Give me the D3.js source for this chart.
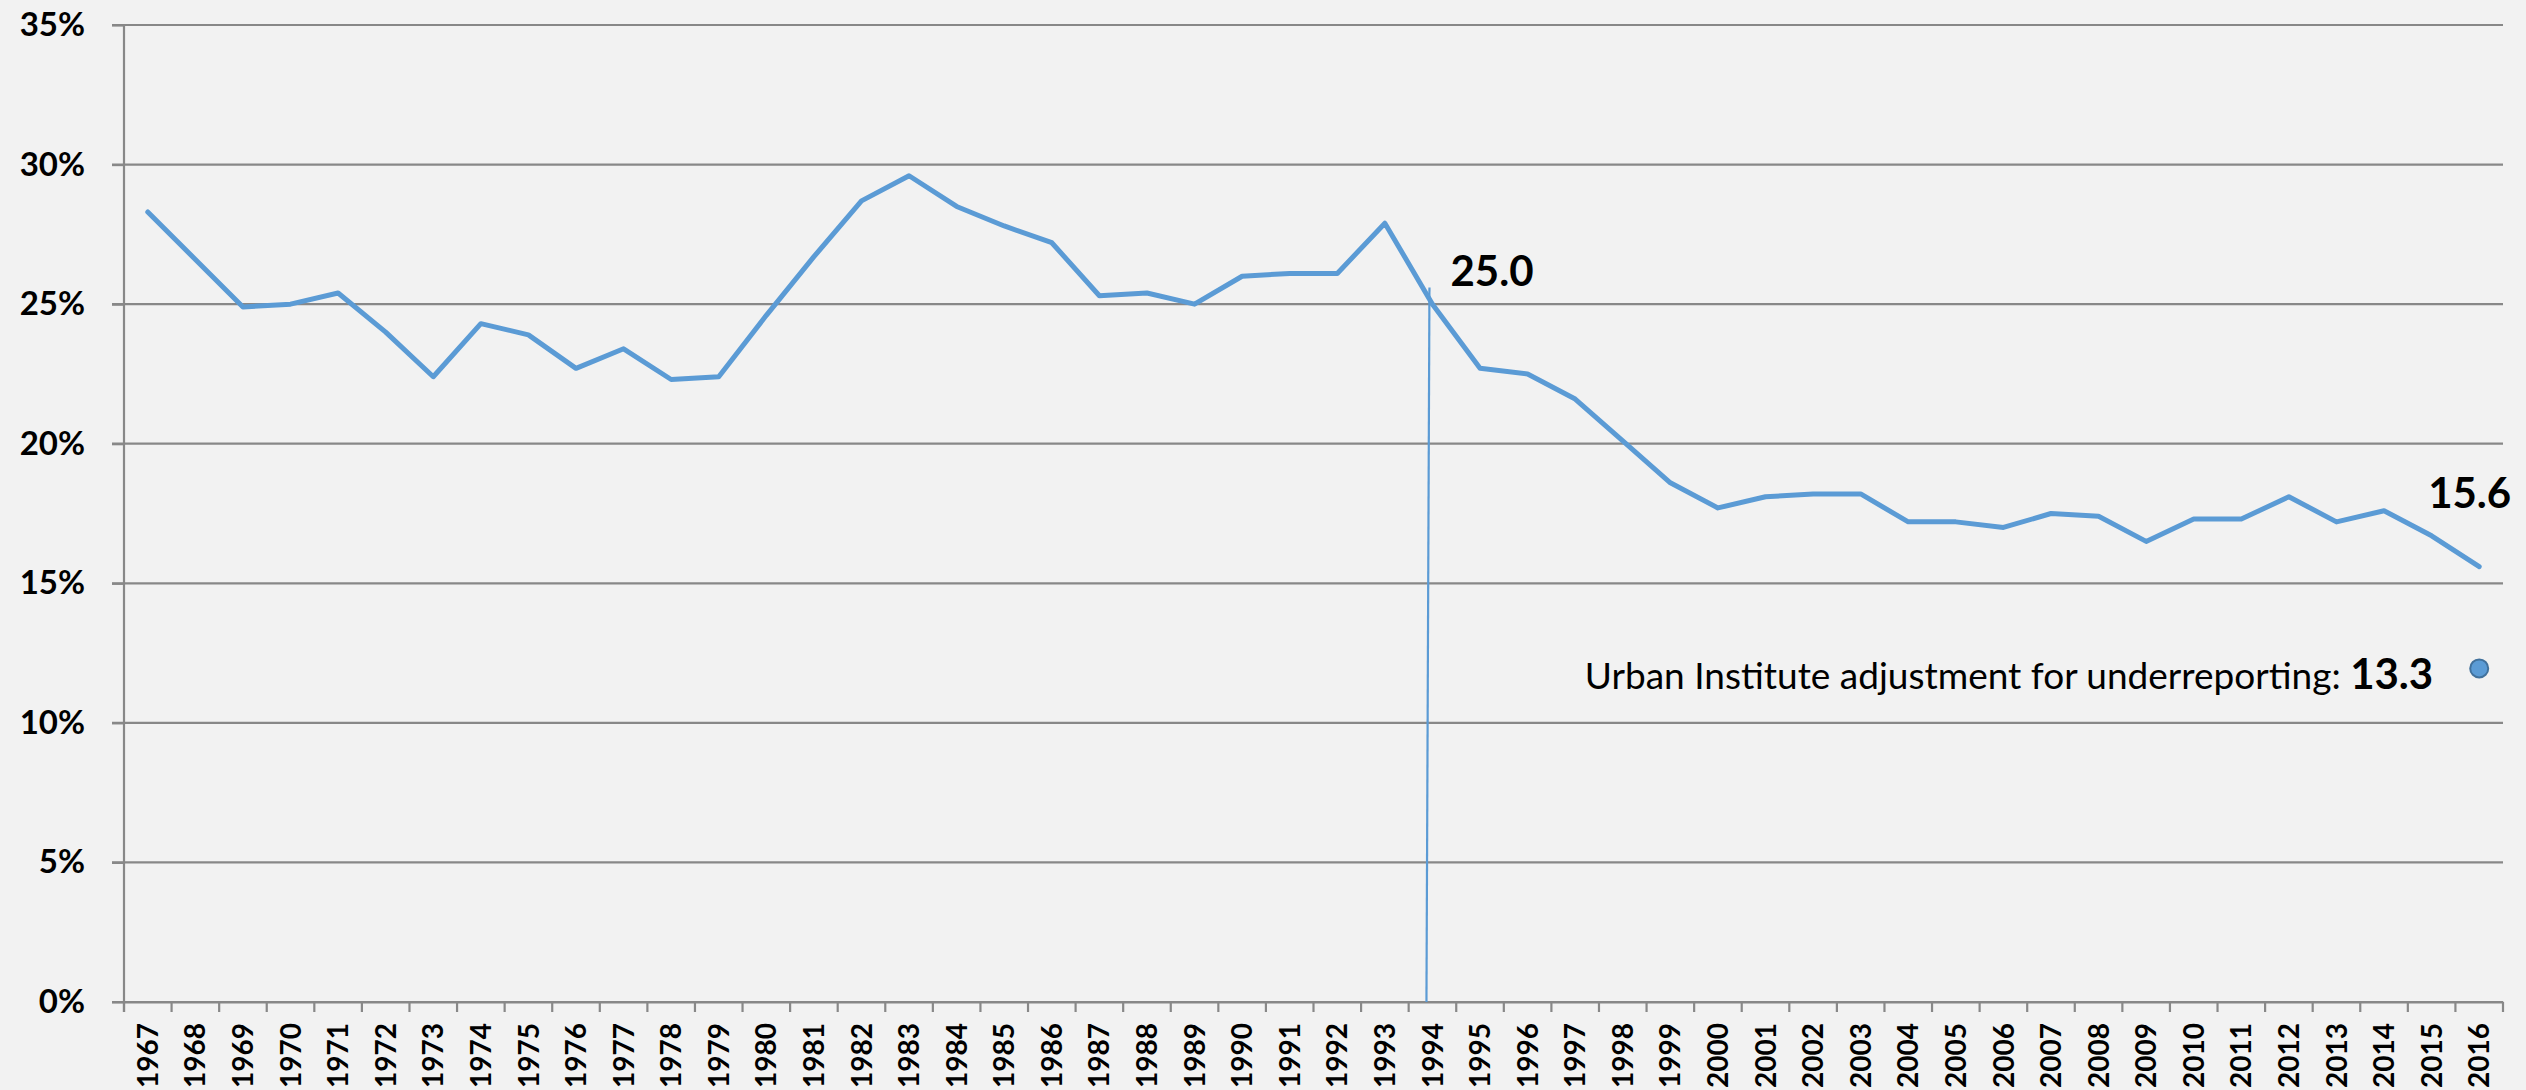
<!DOCTYPE html>
<html>
<head>
<meta charset="utf-8">
<script src="https://cdn.jsdelivr.net/npm/d3@7"></script>
<style>
  html, body { margin: 0; padding: 0; background: #f2f2f2; }
  svg { display: block; }
  .grid line { stroke: #888888; stroke-width: 2.2; }
  .axis path, .axis line { stroke: #888888; stroke-width: 2.2; }
  .ylab text { font-family: Lato, sans-serif; font-weight: bold; font-size: 33px; fill: #000; }
  .xlab text { font-family: Lato, sans-serif; font-weight: bold; font-size: 28px; fill: #000; }
  .big { font-family: Lato, sans-serif; font-weight: bold; font-size: 42px; fill: #000; }
  .note { font-family: Lato, sans-serif; font-size: 37px; fill: #000; }
</style>
</head>
<body>
<svg id="chart" width="2526" height="1090"></svg>
<script>
// years on the category axis
var years = d3.range(1967, 2017);

// rate, percent
var rate = [
  28.3, 26.6, 24.9, 25.0, 25.4, 24.0, 22.4, 24.3, 23.9, 22.7,
  23.4, 22.3, 22.4, 24.6, 26.7, 28.7, 29.6, 28.5, 27.8, 27.2,
  25.3, 25.4, 25.0, 26.0, 26.1, 26.1, 27.9, 25.0, 22.7, 22.5,
  21.6, 20.1, 18.6, 17.7, 18.1, 18.2, 18.2, 17.2, 17.2, 17.0,
  17.5, 17.4, 16.5, 17.3, 17.3, 18.1, 17.2, 17.6, 16.7, 15.6
];

var yTicks = [0, 5, 10, 15, 20, 25, 30, 35];

// labelled points
var callouts = [
  { year: 1994, text: "25.0" },
  { year: 2016, text: "15.6" }
];

// marker line at 1994, from 0 up to where it was drawn
var markerYear = 1994;
var markerTop = 25.6;

// Urban Institute point (label value and where the dot sits)
var adjYear = 2016;
var adjLabel = "13.3";
var adjPlotted = 11.95;
var adjText = "Urban Institute adjustment for underreporting: ";

var svg = d3.select("#chart");
var padLeft = 124, padRight = 2503, padTop = 25, padBottom = 1002;

var x = d3.scaleBand().domain(years).range([padLeft, padRight]);
var y = d3.scaleLinear().domain([0, 35]).range([padBottom, padTop]);

function cx(yr) { return x(yr) + x.bandwidth() / 2; }

// horizontal grid, starting at the little left tick
svg.append("g").attr("class", "grid")
  .selectAll("line").data(yTicks).enter().append("line")
  .attr("x1", padLeft - 12).attr("x2", padRight)
  .attr("y1", function (d) { return y(d); })
  .attr("y2", function (d) { return y(d); });

// y axis
var yAxis = svg.append("g").attr("class", "axis ylab")
  .attr("transform", "translate(" + padLeft + ",0)")
  .call(d3.axisLeft(y).tickValues(yTicks).tickSize(12).tickPadding(27)
    .tickFormat(function (d) { return d + "%"; }));
yAxis.select(".domain").attr("d", "M0," + padTop + "V" + (padBottom + 10));

// x axis: labels at band centres, ticks on band edges
var xAxis = svg.append("g").attr("class", "axis xlab")
  .attr("transform", "translate(0," + padBottom + ")")
  .call(d3.axisBottom(x).tickSize(0).tickSizeOuter(0));
xAxis.selectAll(".tick text")
  .attr("transform", "rotate(-90)")
  .attr("text-anchor", "end")
  .attr("x", -21).attr("y", 0).attr("dy", "0.36em");

xAxis.selectAll(".edge").data(years.concat([null])).enter().append("line")
  .attr("class", "edge")
  .attr("x1", function (d, i) { return padLeft + i * x.step(); })
  .attr("x2", function (d, i) { return padLeft + i * x.step(); })
  .attr("y1", 0).attr("y2", 10);

// 1994 marker line (drawn slightly left of the point, slightly tilted)
svg.append("line")
  .attr("x1", cx(markerYear) - 6).attr("y1", y(0))
  .attr("x2", cx(markerYear) - 3).attr("y2", y(markerTop))
  .attr("stroke", "#5b9bd5").attr("stroke-width", 2.2);

// main series
var line = d3.line()
  .x(function (d) { return cx(d[0]); })
  .y(function (d) { return y(d[1]); });

svg.append("path")
  .datum(years.map(function (yr, i) { return [yr, rate[i]]; }))
  .attr("d", line)
  .attr("fill", "none")
  .attr("stroke", "#5b9bd5")
  .attr("stroke-width", 5)
  .attr("stroke-linejoin", "round")
  .attr("stroke-linecap", "round");

// value labels
callouts.forEach(function (c) {
  var v = rate[years.indexOf(c.year)];
  var t = svg.append("text").attr("class", "big").text(c.text);
  if (c.year == 2016) {
    t.attr("x", cx(c.year) + 32).attr("y", y(v) - 59).attr("text-anchor", "end");
  } else {
    t.attr("x", cx(c.year) + 18).attr("y", y(v) - 18);
  }
});

// adjustment dot + note
svg.append("circle")
  .attr("cx", cx(adjYear)).attr("cy", y(adjPlotted)).attr("r", 9)
  .attr("fill", "#5b9bd5").attr("stroke", "#41719c").attr("stroke-width", 2);

var note = svg.append("text").attr("class", "note")
  .attr("x", cx(adjYear) - 46).attr("y", y(adjPlotted) + 21)
  .attr("text-anchor", "end");
note.append("tspan").text(adjText);
note.append("tspan").attr("class", "big").text(adjLabel);
</script>
</body>
</html>
